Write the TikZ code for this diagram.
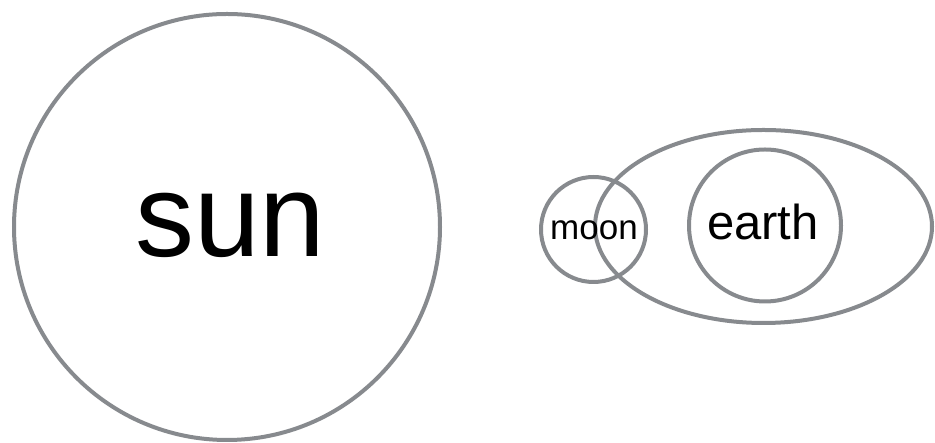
\documentclass[tikz,border=0pt]{standalone}
\usepackage{fontspec}
\setmainfont{Liberation Sans}
\usetikzlibrary{shapes.geometric}
\definecolor{ringgray}{RGB}{135,138,142}
\tikzset{
  ring/.style={draw=ringgray, line width=4pt, inner sep=0pt, fill=none},
  disc/.style={ring, circle, minimum size=#1},
  oval/.style={ring, ellipse},
  word/.style={anchor=base, inner sep=0pt, text=black}
}
\begin{document}
\begin{tikzpicture}[x=1pt, y=1pt]
  \useasboundingbox (0,0) rectangle (935,443);
  % the sun
  \node[disc=426pt] (sun) at (227,216) {};
  \node[word, font=\fontsize{118}{118}\selectfont] (sunlabel) at (230.5,186) {sun};
  % earth's orbit region with the earth and the moon
  \node[oval, minimum width=337pt, minimum height=193pt] (orbit) at (763.5,216.5) {};
  \node[disc=152pt] (earth) at (765,217.5) {};
  \node[disc=105pt] (moon) at (593.5,213.5) {};
  \node[word, font=\fontsize{35}{35}\selectfont] (moonlabel) at (594,203) {moon};
  \node[word, font=\fontsize{49}{49}\selectfont] (earthlabel) at (763,203) {earth};
\end{tikzpicture}
\end{document}
